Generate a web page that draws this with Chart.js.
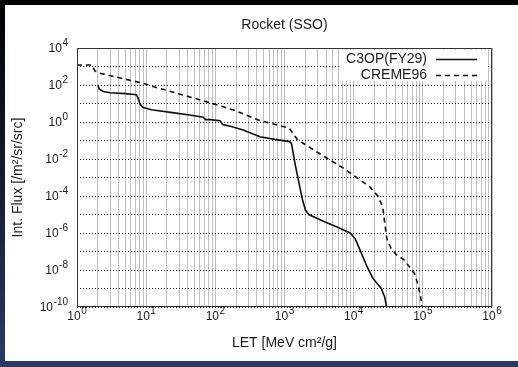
<!DOCTYPE html>
<html>
<head>
<meta charset="utf-8">
<script src="https://cdn.jsdelivr.net/npm/chart.js@4"></script>
<style>
  html, body { margin: 0; padding: 0; background: #000; }
  canvas { display: block; }
</style>
</head>
<body>
<canvas id="fluxChart" width="518" height="367"></canvas>
<script>
// LET values [MeV cm2/g] and integral flux [/m2/sr/s]
const c3opLet = [2.0, 2.1, 2.4, 3.0, 5.0, 7.2, 7.6, 8.2, 9.0, 12, 24, 45, 67, 72, 84, 117, 128, 160, 253, 441,
  720, 1180, 1260, 1445, 1660, 1820, 2000, 2240, 3800, 5620, 8900, 10500, 12300, 15500, 19000, 25000, 28000, 29900];
const c3opFlux = [1e2, 60, 45, 38, 34, 30, 20, 9, 6, 4.6, 3.2, 2.3, 1.8, 1.35, 1.35, 1.17, 0.72, 0.6, 0.37, 0.16,
  0.115, 0.087, 0.07, 4e-3, 3.2e-4, 6.3e-5, 1.8e-5, 1e-5, 4.1e-6, 2.2e-6, 1e-6, 5e-7, 1.26e-7, 1.6e-8, 3.5e-9, 1e-9, 3.6e-10, 1e-10];

const cremeLet = [1, 1.65, 1.8, 2.15, 9.1, 14, 74, 182, 417, 1175, 1550, 1860, 3800, 5000, 7080, 9770, 17000, 22400,
  26300, 28200, 30200, 34700, 41700, 53700, 75900, 85100, 93300, 97700];
const cremeFlux = [1200, 1200, 600, 430, 123, 74, 12.6, 4.5, 1.29, 0.46, 0.107, 0.071, 0.0132, 7.1e-3, 3.2e-3, 1.38e-3, 3.2e-4, 1e-4,
  2.6e-5, 3.2e-6, 5e-7, 1.5e-7, 6.5e-8, 3.5e-8, 6.3e-9, 1.6e-9, 3.2e-10, 1e-10];

const seriesNames = ['C3OP(FY29)', 'CREME96'];
const xLabelExps = [0, 1, 2, 3, 4, 5, 6];
const yLabelExps = [4, 2, 0, -2, -4, -6, -8, -10];

const FONT = "'Liberation Sans', Arial, sans-serif";

// grid positions: 1..9 x 10^n on x, every decade on y
const xGrid = [];
for (let e = 0; e < 6; e++) for (let m = 1; m < 10; m++) xGrid.push(m * Math.pow(10, e));
xGrid.push(1e6);
const yGrid = [];
for (let e = -10; e <= 4; e++) yGrid.push(Math.pow(10, e));

function zip(xs, ys) { return xs.map((x, i) => ({ x: x, y: ys[i] })); }

function drawPow(ctx, exp, x, y, align) {
  const base = '10', sup = String(exp);
  ctx.font = '12px ' + FONT;
  const wb = ctx.measureText(base).width;
  ctx.font = '10px ' + FONT;
  const ws = ctx.measureText(sup).width;
  const total = wb + ws + 0.5;
  let start = align === 'right' ? x - total : x - total / 2;
  ctx.textAlign = 'left';
  ctx.textBaseline = 'alphabetic';
  ctx.font = '12px ' + FONT;
  ctx.fillText(base, start, y + 4);
  ctx.font = '10px ' + FONT;
  ctx.fillText(sup, start + wb + 0.5, y - 2);
}

const decor = {
  id: 'decor',
  beforeDraw(chart) {
    const ctx = chart.ctx;
    const g = ctx.createLinearGradient(0, 0, 0, 367);
    g.addColorStop(0, '#000000');
    g.addColorStop(1, '#2b3b60');
    ctx.save();
    ctx.fillStyle = g;
    ctx.fillRect(0, 0, 518, 367);
    ctx.fillStyle = '#ffffff';
    ctx.fillRect(5, 5, 513, 356);
    ctx.restore();
  },
  afterDraw(chart) {
    const ctx = chart.ctx;
    const a = chart.chartArea;
    const xs = chart.scales.x, ys = chart.scales.y;
    ctx.save();
    // plot frame
    ctx.strokeStyle = '#333';
    ctx.lineWidth = 1;
    ctx.strokeRect(a.left + 0.5, a.top + 0.5, a.right - a.left - 1, a.bottom - a.top - 1);

    ctx.fillStyle = '#1a1a1a';
    // tick labels
    xLabelExps.forEach(e => drawPow(ctx, e, xs.getPixelForValue(Math.pow(10, e)), 316, 'center'));
    yLabelExps.forEach(e => drawPow(ctx, e, 68, ys.getPixelForValue(Math.pow(10, e)), 'right'));

    // title and axis titles
    ctx.font = '14px ' + FONT;
    ctx.textAlign = 'center';
    ctx.textBaseline = 'middle';
    ctx.fillText('Rocket (SSO)', (a.left + a.right) / 2, 25);
    ctx.fillText('LET [MeV cm\u00B2/g]', (a.left + a.right) / 2, 343);
    ctx.save();
    ctx.translate(18, (a.top + a.bottom) / 2);
    ctx.rotate(-Math.PI / 2);
    ctx.fillText('Int. Flux [/m\u00B2/sr/src]', 0, 0);
    ctx.restore();

    // legend
    ctx.fillStyle = '#ffffff';
    ctx.fillRect(340, 50, 147, 31);
    ctx.fillStyle = '#1a1a1a';
    ctx.textAlign = 'right';
    const rows = [59, 75];
    chart.data.datasets.forEach((ds, i) => {
      ctx.fillText(ds.label, 427, rows[i]);
      ctx.strokeStyle = ds.borderColor;
      ctx.lineWidth = ds.borderWidth;
      ctx.setLineDash(ds.borderDash || []);
      ctx.beginPath();
      ctx.moveTo(436, rows[i] + 0.5);
      ctx.lineTo(477, rows[i] + 0.5);
      ctx.stroke();
    });
    ctx.restore();
  }
};

const ctx = document.getElementById('fluxChart').getContext('2d');
const fluxChart = new Chart(ctx, {
  type: 'scatter',
  data: {
    datasets: [{
      label: seriesNames[0],
      data: zip(c3opLet, c3opFlux),
      showLine: true,
      borderColor: '#111',
      borderWidth: 1.6,
      pointRadius: 0,
      tension: 0
    }, {
      label: seriesNames[1],
      data: zip(cremeLet, cremeFlux),
      showLine: true,
      borderColor: '#111',
      borderWidth: 1.6,
      borderDash: [5, 4],
      pointRadius: 0,
      tension: 0
    }]
  },
  options: {
    responsive: false,
    animation: false,
    devicePixelRatio: 1,
    layout: { padding: { left: 77, right: 26, top: 48, bottom: 60 } },
    plugins: {
      legend: { display: false },
      title: { display: false },
      tooltip: { enabled: false }
    },
    scales: {
      x: {
        type: 'logarithmic',
        min: 1,
        max: 1e6,
        ticks: { display: false },
        grid: { color: 'rgba(140,140,140,0.55)', lineWidth: 1, drawTicks: false },
        border: { display: false },
        afterBuildTicks: s => { s.ticks = xGrid.map(v => ({ value: v })); }
      },
      y: {
        type: 'logarithmic',
        min: 1e-10,
        max: 1e4,
        ticks: { display: false },
        grid: { color: '#222', lineWidth: 1, drawTicks: false, borderDash: [1, 2] },
        border: { display: false, dash: [1, 2] },
        afterBuildTicks: s => { s.ticks = yGrid.map(v => ({ value: v })); }
      }
    }
  },
  plugins: [decor]
});
</script>
</body>
</html>
